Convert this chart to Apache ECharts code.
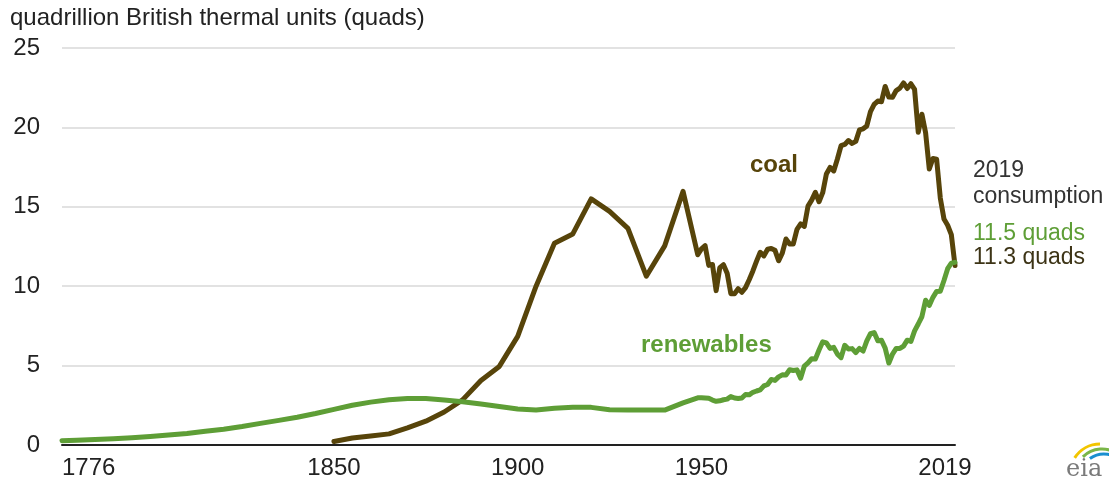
<html>
<head>
<meta charset="utf-8">
<title>coal vs renewables</title>
<script src="https://cdn.jsdelivr.net/npm/echarts@6/dist/echarts.min.js"></script>
<style>
  html, body { margin: 0; padding: 0; background: #fff; }
  #main { width: 1109px; height: 485px; }
</style>
</head>
<body>
<div id="main"></div>
<script type="text/javascript">
// 5-year estimates before 1949
var renewEarlyYears = [1776,1780,1785,1790,1795,1800,1805,1810,1815,1820,1825,1830,1835,1840,1845,
  1850,1855,1860,1865,1870,1875,1880,1885,1890,1895,1900,1905,1910,1915,1920,1925,1930,1935,1940,1945];
var renewEarly = [0.27,0.30,0.34,0.39,0.46,0.54,0.63,0.73,0.86,0.99,1.16,1.36,1.55,1.75,1.98,
  2.24,2.50,2.70,2.85,2.93,2.93,2.83,2.72,2.58,2.42,2.27,2.21,2.32,2.37,2.37,2.22,2.20,2.20,2.20,2.65];

var coalEarlyYears = [1850,1855,1860,1865,1870,1875,1880,1885,1890,1895,1900,1905,1910,1915,1920,1925,1930,1935,1940,1945];
var coalEarly = [0.22,0.44,0.56,0.70,1.08,1.50,2.08,2.84,4.06,4.95,6.84,10.00,12.71,13.29,15.50,14.71,13.64,10.63,12.54,15.97];

// annual from 1949
var annualYears = [];
for (var y = 1949; y <= 2019; y++) annualYears.push(y);

var renewAnnual = [2.97,2.98,2.96,2.94,2.83,2.75,2.78,2.85,2.89,3.05,
  2.96,2.93,2.96,3.18,3.16,3.32,3.40,3.47,3.72,3.81,
  4.13,4.07,4.29,4.42,4.41,4.74,4.69,4.73,4.21,4.97,
  5.17,5.43,5.41,5.98,6.50,6.43,6.08,6.15,5.72,5.50,
  6.28,6.04,6.07,5.82,6.08,5.92,6.56,7.01,7.08,6.56,
  6.60,6.10,5.16,5.73,6.08,6.08,6.23,6.60,6.52,7.19,
  7.62,8.09,9.12,8.79,9.30,9.67,9.68,10.36,11.10,11.45,11.50];

var coalAnnual = [11.98,12.35,12.55,11.31,11.37,9.72,11.17,11.35,10.82,9.53,
  9.52,9.84,9.62,9.91,10.41,10.96,11.58,12.14,11.91,12.33,
  12.38,12.27,11.60,12.08,12.97,12.66,12.66,13.58,13.92,13.77,
  15.04,15.42,15.91,15.32,15.89,17.07,17.48,17.26,18.01,18.85,
  18.93,19.17,18.99,19.12,19.84,19.91,20.09,21.00,21.45,21.66,
  21.62,22.58,21.91,21.90,22.32,22.47,22.80,22.45,22.75,22.39,
  19.69,20.83,19.66,17.38,18.04,18.00,15.55,14.23,13.84,13.25,11.30];

var xTicks = [1776, 1850, 1900, 1950, 2019];
var yTicks = [0, 5, 10, 15, 20, 25];

var coalColor = '#57440a';
var greenColor = '#5e9e36';
var textFont = "'Liberation Sans', Arial, sans-serif";
var axisFont = "'Liberation Sans Narrow', 'Arial Narrow', 'Liberation Sans', sans-serif";

function pairs(xs, ys) {
  var out = [];
  for (var i = 0; i < xs.length; i++) out.push([xs[i], ys[i]]);
  return out;
}
var renewData = pairs(renewEarlyYears.concat(annualYears), renewEarly.concat(renewAnnual));
var coalData = pairs(coalEarlyYears.concat(annualYears), coalEarly.concat(coalAnnual));

var myChart = echarts.init(document.getElementById('main'));

var option = {
  animation: false,
  backgroundColor: '#fff',
  grid: { left: 62, right: 154, top: 48, bottom: 40, containLabel: false },
  xAxis: {
    type: 'value',
    min: 1776,
    max: 2019,
    splitLine: { show: false },
    axisTick: { show: false },
    axisLine: { show: true, lineStyle: { color: '#222', width: 2 } },
    axisLabel: {
      customValues: xTicks,
      alignMinLabel: 'left',
      alignMaxLabel: 'center',
      margin: 11,
      color: '#222',
      fontSize: 24,
      fontFamily: axisFont,
      formatter: function (v) {
        return v === 2019 ? '{m|2019}' : String(v);
      },
      rich: { m: { fontSize: 24, fontFamily: axisFont, color: '#222', padding: [0, 20, 0, 0] } }
    }
  },
  yAxis: {
    type: 'value',
    min: 0,
    max: 25,
    interval: 5,
    axisLine: { show: false },
    axisTick: { show: false },
    splitLine: { lineStyle: { color: '#e2e2e2', width: 2 } },
    axisLabel: {
      margin: 22,
      color: '#222',
      fontSize: 24,
      fontFamily: axisFont,
      formatter: function (v) { return yTicks.indexOf(v) >= 0 ? String(v) : ''; }
    }
  },
  series: [
    {
      name: 'renewables',
      type: 'line',
      data: renewData,
      showSymbol: false,
      lineStyle: { color: greenColor, width: 5, join: 'round', cap: 'round' },
      z: 3
    },
    {
      name: 'coal',
      type: 'line',
      data: coalData,
      showSymbol: false,
      lineStyle: { color: coalColor, width: 5, join: 'round', cap: 'round' },
      z: 2
    }
  ],
  graphic: [
    { type: 'text', left: 10, top: 6, style: { text: 'quadrillion British thermal units (quads)', fill: '#222', font: '24px ' + textFont } },
    { type: 'text', x: 750, y: 165, style: { text: 'coal', fill: coalColor, font: 'bold 24px ' + textFont, verticalAlign: 'middle' } },
    { type: 'text', x: 641, y: 345, style: { text: 'renewables', fill: greenColor, font: 'bold 24px ' + textFont, verticalAlign: 'middle' } },
    { type: 'text', x: 973, y: 171, style: { text: '2019', fill: '#333', font: '23px ' + textFont, verticalAlign: 'middle' } },
    { type: 'text', x: 973, y: 197, style: { text: 'consumption', fill: '#333', font: '23px ' + textFont, verticalAlign: 'middle' } },
    { type: 'text', x: 973, y: 234, style: { text: '11.5 quads', fill: greenColor, font: '23px ' + textFont, verticalAlign: 'middle' } },
    { type: 'text', x: 973, y: 258, style: { text: '11.3 quads', fill: '#3d3416', font: '23px ' + textFont, verticalAlign: 'middle' } },
    // eia logo
    { type: 'arc', shape: { cx: 1100, cy: 474, r: 30, startAngle: Math.PI * 1.18, endAngle: Math.PI * 1.5 }, style: { stroke: '#f2c500', lineWidth: 3, fill: 'none' } },
    { type: 'arc', shape: { cx: 1102, cy: 476, r: 27, startAngle: Math.PI * 1.25, endAngle: Math.PI * 1.7 }, style: { stroke: '#7ab648', lineWidth: 3, fill: 'none' } },
    { type: 'arc', shape: { cx: 1104, cy: 478, r: 24, startAngle: Math.PI * 1.3, endAngle: Math.PI * 1.95 }, style: { stroke: '#1a8fd0', lineWidth: 3, fill: 'none' } },
    { type: 'text', x: 1066, y: 470, style: { text: 'eia', fill: '#7a7a7a', font: '24px "DejaVu Serif", "Liberation Serif", serif', verticalAlign: 'middle' } }
  ]
};
myChart.setOption(option);
</script>
</body>
</html>
